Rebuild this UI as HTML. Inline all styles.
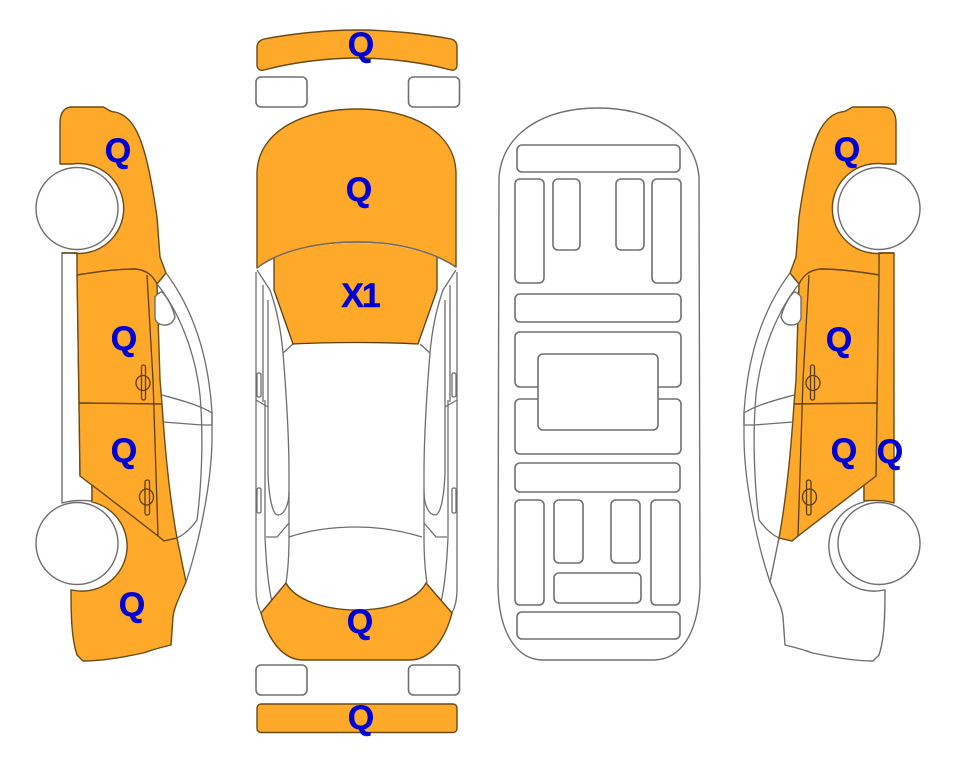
<!DOCTYPE html>
<html><head><meta charset="utf-8"><style>
html,body{margin:0;padding:0;background:#fff}
svg{display:block}
text{font-family:"Liberation Sans",sans-serif;font-weight:bold;font-size:34px;fill:#0000d2;text-anchor:middle;stroke:#0000d2;stroke-width:.4}
.o{fill:#ffa92b;stroke:#6b4a14;stroke-width:1.4;stroke-linejoin:round}
.w{fill:#fff;stroke:#6e6e6e;stroke-width:1.4;stroke-linejoin:round}
.l{fill:none;stroke:#6e6e6e;stroke-width:1.3}
.d{fill:none;stroke:#5a3f12;stroke-width:1.3}
.r{fill:#fff;stroke:#707070;stroke-width:1.6}
</style></head><body>
<svg width="963" height="768" viewBox="0 0 963 768" xmlns="http://www.w3.org/2000/svg">
<rect width="963" height="768" fill="#fff"/>
<defs>
<path id="F" d="M60,164 L60,123 C60,112 65,107 72,107 L103,107 C107,108 109,112 115,112 C125,114 132,122 137,132 C147,152 153,190 157,217 L160,257 L166,273 L157,284 C153,276 147,270 135,269 C115,269 95,272 77,275 L77,253 L62,253 L72,253 A45,45 0 1 0 72,164 Z"/>
<path id="D1" d="M77,275 C95,272 115,269 135,269 C147,270 153,276 157,284 L160,380 L162,404 L79,403 Z"/>
<path id="D2" d="M79,403 L162,404 C165,450 170,500 177,538 L164,541 L158,536 L80,476 Z"/>
<path id="R" d="M92,485 L158,536 L164,541 L177,538 L186,582 C178,600 174,608 173,617 L171,645 C150,650 150,651 143,653 C120,658 100,661 83,661 L77,655 C72,640 71,620 71,590 L72,590 A45,45 0 0 0 92,502 Z"/>
<path id="S" d="M62,253 L77,253 L79,403 L80,476 L92,485 L92,501 C82,500 72,500 62,503 Z"/>
<g id="common">
<path class="l" d="M166,273 C190,305 208,350 212,412 L212,437 C212,480 200,540 186,582"/>
<path class="l" d="M157,284 C178,310 195,350 200,395 C204,440 201,490 197,520 C190,530 183,535 177,538"/>
<path class="l" d="M162,395 C180,400 200,405 212,413 L212,425 L202,425 L163,422"/>
<path class="w" d="M155,297 C157,294 160,292 162,292 C168,298 173,308 175,317 C173,323 169,325 165,325 C159,325 155,322 155,317 Z"/>
<path class="d" d="M147,275 L153,380 L158,536"/>
<rect class="d" x="141.500" y="365" width="4" height="35" rx="2"/>
<ellipse class="d" cx="143" cy="383" rx="7" ry="7.500"/>
<rect class="d" x="145" y="480" width="4.500" height="35" rx="2"/>
<ellipse class="d" cx="146.500" cy="497" rx="7" ry="8"/>
<circle class="w" cx="77" cy="208.500" r="41"/>
<circle class="w" cx="77" cy="543.500" r="41"/>
</g>
<g id="half">
<path class="l" d="M256,272 L256,590 C256,600 258,607 261,613"/>
<path class="l" d="M263,285 L263,402 M268,300 L268,473 C269,500 273,515 278,515 C284,515 289,505 289,492"/>
<path class="l" d="M257,270 L270,290 C277,310 281,330 283,353 L293,344"/>
<path class="l" d="M283,353 C286,390 289,440 289,473 L289,537 C289,555 288,570 286,583"/>
<path class="l" d="M265,400 L265,537 C266,560 268,585 272,602"/>
<path class="l" d="M256,400 L268,407 M266,537 L277,537 L289,523"/>
<rect class="l" x="257" y="373" width="4" height="24" rx="1.500"/>
<rect class="l" x="257" y="488" width="4" height="25" rx="1.500"/>
</g>
</defs>

<!-- left car -->
<use href="#S" class="w"/>
<use href="#F" class="o"/>
<use href="#D1" class="o"/>
<use href="#D2" class="o"/>
<use href="#R" class="o"/>
<use href="#common"/>

<!-- right car -->
<g transform="translate(956,0) scale(-1,1)">
<use href="#R" class="w"/>
<use href="#S" class="o"/>
<use href="#F" class="o"/>
<use href="#D1" class="o"/>
<use href="#D2" class="o"/>
<use href="#common"/>
</g>

<!-- top view -->
<path class="o" d="M257,47 C257,43 260,40 264,39 C290,34 325,30 357,30 C390,30 425,34 451,39 C455,40 457,43 457,47 L457,65 C457,69 454,71 451,70 C425,63 390,58 357,58 C325,58 290,63 264,70 C260,71 257,69 257,65 Z"/>
<rect class="r" x="256" y="77" width="51" height="30" rx="5"/>
<rect class="r" x="408.500" y="77" width="51" height="30" rx="5"/>
<use href="#half"/>
<use href="#half" transform="translate(713,0) scale(-1,1)"/>
<path class="l" d="M289,537 C310,530 335,527 357,527 C380,527 402,531 422,537"/>
<path class="o" d="M257,268 L257,173 C258,130 305,109 357,109 C409,109 455,130 456,173 L456,267 C430,250 395,242 357,242 C320,242 280,250 257,268 Z"/>
<path class="o" style="stroke:none" d="M274,257 L274,290 L293,344 C330,342 385,342 418,344 L437,290 L437,257 C410,247 385,243 357,243 C325,243 298,248 274,257 Z"/>
<path class="d" d="M274,257 L274,290 L293,344 C330,342 385,342 418,344 L437,290 L437,257"/>
<path class="l" d="M257,268 C280,250 320,242 357,242 C395,242 430,250 456,267"/>
<path class="o" d="M261,613 L286,583 C295,600 325,610 357,610 C390,610 417,600 426,583 L452,613 C445,640 430,660 410,660 L303,660 C283,660 268,640 261,613 Z"/>
<rect class="r" x="256" y="665" width="51" height="30" rx="5"/>
<rect class="r" x="408.500" y="665" width="51" height="30" rx="5"/>
<rect class="o" x="257" y="704" width="200" height="28.500" rx="4"/>

<!-- underside -->
<path class="r" style="stroke-width:1.4" d="M499,177 C503,132 545,108 598,108 C651,108 695,132 699,177 L700,587 C698,635 680,660 653,660 L543,660 C518,660 499,635 498,587 Z"/>
<g class="r">
<rect x="517" y="145" width="163" height="27" rx="5"/>
<rect x="515" y="179" width="29" height="104" rx="5"/>
<rect x="553" y="179" width="27" height="71" rx="5"/>
<rect x="616" y="179" width="28" height="71" rx="5"/>
<rect x="652" y="179" width="29" height="104" rx="5"/>
<rect x="515" y="294" width="166" height="28" rx="5"/>
<rect x="515" y="332" width="166" height="55" rx="5"/>
<rect x="515" y="399" width="166" height="55" rx="5"/>
<rect x="538" y="354" width="120" height="76" rx="5"/>
<rect x="515" y="463" width="165" height="29" rx="5"/>
<rect x="515" y="500" width="29" height="105" rx="5"/>
<rect x="554" y="500" width="29" height="63" rx="5"/>
<rect x="611" y="500" width="29" height="63" rx="5"/>
<rect x="651" y="500" width="29" height="105" rx="5"/>
<rect x="554" y="573" width="87" height="30" rx="5"/>
<rect x="517" y="612" width="163" height="27" rx="5"/>
</g>

<!-- labels -->
<text x="118" y="162">Q</text>
<text x="124" y="350">Q</text>
<text x="124" y="462">Q</text>
<text x="132" y="616">Q</text>
<text x="361" y="56">Q</text>
<text x="359" y="201">Q</text>
<text x="360" y="307" style="letter-spacing:-2px">X1</text>
<text x="360" y="633">Q</text>
<text x="361" y="729">Q</text>
<text x="847" y="161">Q</text>
<text x="839" y="351">Q</text>
<text x="844" y="462">Q</text>
<text x="890" y="463">Q</text>
</svg>
</body></html>
